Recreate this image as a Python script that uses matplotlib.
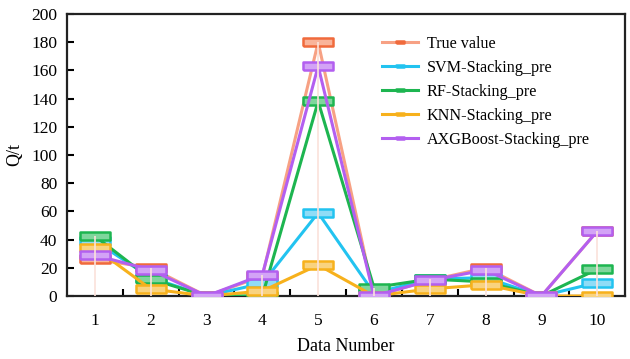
import numpy as np
import matplotlib.pyplot as plt
from matplotlib.ticker import MultipleLocator

plt.rcParams['font.family'] = ['Liberation Serif', 'DejaVu Serif']

# data
data_no = [1, 2, 3, 4, 5, 6, 7, 8, 9, 10]
true_val = [26, 20, 0, 14, 180, 0, 11, 20, 0, 46]
svm_pre = [39, 13, 0, 9, 59, 2, 12, 13, 0, 9.5]
rf_pre = [42.5, 12, 0, 0, 138, 6, 12, 10, 0, 19]
knn_pre = [34, 5, 0, 3.5, 22, 0, 5, 8, 0, 0]
axgb_pre = [29, 18.5, 0, 15, 163, 0, 11, 18.5, 0, 46]

names = ['True value', 'SVM-Stacking_pre', 'RF-Stacking_pre',
         'KNN-Stacking_pre', 'AXGBoost-Stacking_pre']
series = [true_val, svm_pre, rf_pre, knn_pre, axgb_pre]
line_cols = ['#f7a184', '#22c3f0', '#1db550', '#f7b11c', '#b35ff0']
edge_cols = ['#f06a3c', '#22c3f0', '#1db550', '#f7b11c', '#b35ff0']
face_cols = ['#f9b49a', '#8fdcf6', '#7fd69c', '#f9d37f', '#d3a3f6']

# wide flat box marker
rect = [(-3.3, -1), (3.3, -1), (3.3, 1), (-3.3, 1), (-3.3, -1)]

fig = plt.figure(figsize=(6.3, 3.59), dpi=100)
ax = fig.add_axes([0.1063, 0.1755, 0.886, 0.7855])

for s, nm, lc, ec, fc in zip(series, names, line_cols, edge_cols, face_cols):
    ax.plot(data_no, s, color=lc, lw=2.2, marker=rect, markersize=21,
            markeredgecolor=ec, markerfacecolor=fc, markeredgewidth=1.8,
            label=nm, zorder=3)

# pale drop lines through the points
tops = np.max(np.array(series), axis=0)
ax.vlines(data_no, 0, tops, color='#fbe2da', lw=1.2, zorder=4)

ax.set_xlim(0.5, 10.5)
ax.set_ylim(0, 200)
ax.set_xticks(data_no)
ax.set_xticks(np.arange(1.5, 10.5, 1), minor=True)
ax.tick_params(axis='x', which='major', length=0, pad=12, labelsize=12.5)
ax.tick_params(axis='x', which='minor', direction='in', length=5, width=1.5)
ax.yaxis.set_major_locator(MultipleLocator(20))
ax.tick_params(axis='y', direction='in', length=5, width=1.5, labelsize=12.5, pad=7)
for sp in ax.spines.values():
    sp.set_linewidth(1.6)
    sp.set_color('#222222')

ax.set_xlabel('Data Number', fontsize=13, labelpad=7)
ax.set_ylabel('Q/t', fontsize=13, labelpad=6)

leg = ax.legend(loc='upper left', bbox_to_anchor=(0.539, 0.975), frameon=False,
                fontsize=11.6, handlelength=2.2, labelspacing=0.5,
                markerscale=0.3, handletextpad=0.55)

plt.savefig('out.png', dpi=100)
